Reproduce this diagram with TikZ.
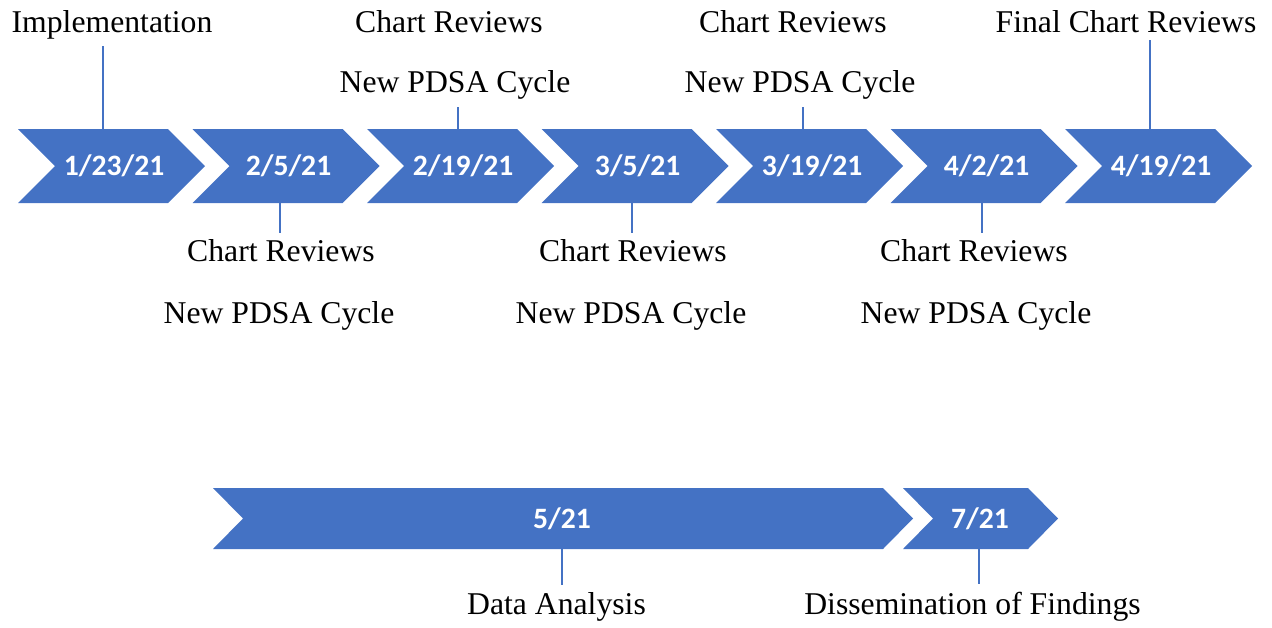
\documentclass[tikz,border=0pt]{standalone}
\usepackage{fontspec}
\setmainfont{Liberation Serif}
\newfontfamily\datefont{Carlito}
\definecolor{chevblue}{HTML}{4472C4}

\begin{document}
\begin{tikzpicture}[x=1pt, y=-1pt,
    label/.style={font=\fontsize{31.7}{38}\selectfont, inner sep=7pt, anchor=base},
    date/.style={font=\datefont\bfseries\fontsize{29.6}{36}\selectfont, text=white, inner sep=0pt, minimum height=74pt},
    link/.style={chevblue, line width=1.2pt}]
    \useasboundingbox (0,0) rectangle (1272,627);

    % Setas da primeira fase
    \foreach \txt [count=\i from 1] in {1/23/21,2/5/21,2/19/21,3/5/21,3/19/21,4/2/21,4/19/21} {
        \pgfmathsetmacro{\lx}{18+174.5*(\i-1)}
        \fill[chevblue] (\lx,129) -- ++(150,0) -- ++(37,37) -- ++(-37,37) -- ++(-150,0) -- ++(37,-37) -- cycle;
        \node[date] (d\i) at (\lx+96,166) {\txt};
    }

    % Setas da segunda fase
    \fill[chevblue] (213,488) -- (883,488) -- (913,518.5) -- (883,549) -- (213,549) -- (243,518.5) -- cycle;
    \fill[chevblue] (903,488) -- (1028,488) -- (1058,518.5) -- (1028,549) -- (903,549) -- (933,518.5) -- cycle;
    \node[date, minimum height=61pt] (d8) at (562,518.5) {5/21};
    \node[date, minimum height=61pt] (d9) at (980,518.5) {7/21};

    % Textos acima
    \node[label] (impl) at (112,32) {Implementation};
    \node[label] (cr3) at (449,32) {Chart Reviews};
    \node[label] (pd3) at (455,92.7) {New PDSA Cycle};
    \node[label] (cr5) at (793,32) {Chart Reviews};
    \node[label] (pd5) at (800,92.7) {New PDSA Cycle};
    \node[label] (fcr) at (1126,32) {Final Chart Reviews};

    % Textos abaixo
    \node[label] (cr2) at (281,261.7) {Chart Reviews};
    \node[label] (pd2) at (279,323) {New PDSA Cycle};
    \node[label] (cr4) at (633,261.7) {Chart Reviews};
    \node[label] (pd4) at (631,323) {New PDSA Cycle};
    \node[label] (cr6) at (974,261.7) {Chart Reviews};
    \node[label] (pd6) at (976,323) {New PDSA Cycle};
    \node[label] (data) at (556.5,614) {Data Analysis};
    \node[label] (diss) at (972.5,614) {Dissemination of Findings};

    % Pontos de ligação nas setas
    \coordinate (p1) at (103,129);
    \coordinate (p2) at (280,203);
    \coordinate (p3) at (458,129);
    \coordinate (p4) at (632,203);
    \coordinate (p5) at (803,129);
    \coordinate (p6) at (982,203);
    \coordinate (p7) at (1150,129);
    \coordinate (p8) at (562,549);
    \coordinate (p9) at (979,549);

    % Linhas
    \draw[link] (p1) -- (p1 |- impl.south);
    \draw[link] (p2) -- (p2 |- cr2.north);
    \draw[link] (p3) -- (p3 |- pd3.south);
    \draw[link] (p4) -- (p4 |- cr4.north);
    \draw[link] (p5) -- (p5 |- pd5.south);
    \draw[link] (p6) -- (p6 |- cr6.north);
    \draw[link] (p7) -- (p7 |- fcr.south);
    \draw[link] (p8) -- (p8 |- data.north);
    \draw[link] (p9) -- (p9 |- diss.north);
\end{tikzpicture}
\end{document}
